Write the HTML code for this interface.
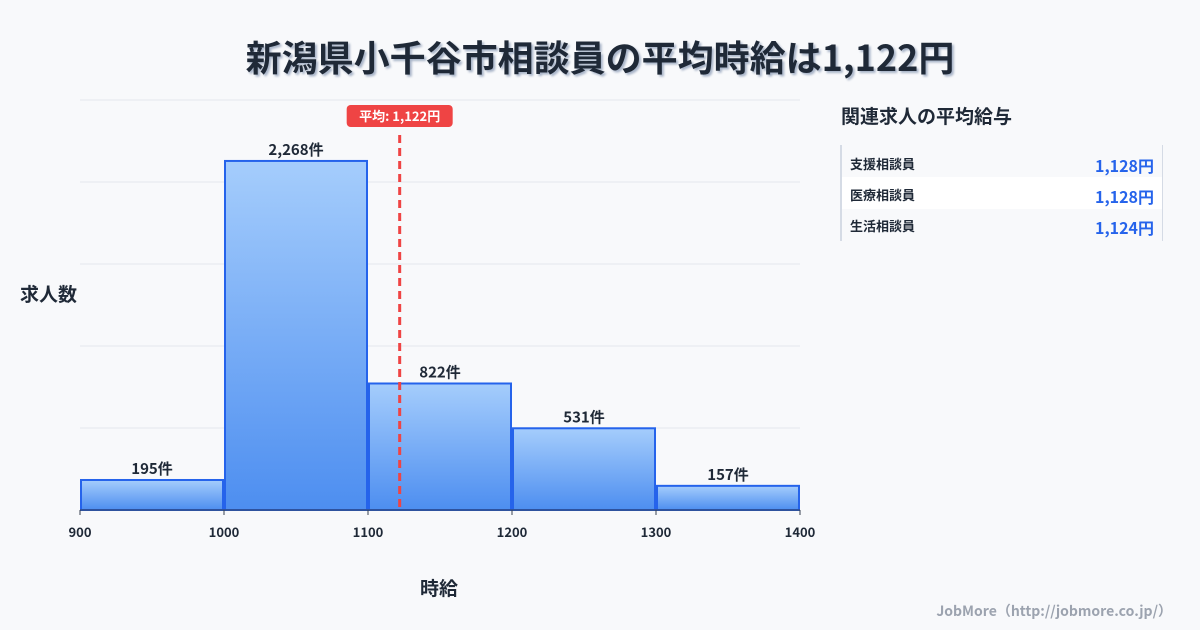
<!DOCTYPE html>
<html><head><meta charset="utf-8">
<style>
body{margin:0;background:#f8f9fb;font-family:"Liberation Sans","Noto Sans CJK JP",sans-serif;}
#wrap{position:relative;width:1200px;height:630px;overflow:hidden;background:#f8f9fb;}
.t{position:absolute;white-space:nowrap;}
</style></head><body>
<div id="wrap">
<div class="t" style="left:0;width:1200px;text-align:center;top:30px;font-size:36px;font-weight:bold;color:#1f2937;text-shadow:2px 2px 2px #a8b4c8;font-family:'Noto Sans CJK JP',sans-serif;">新潟県小千谷市相談員の平均時給は1,122円</div>
<svg id="chart" width="1200" height="630" style="position:absolute;left:0;top:0">
<defs><linearGradient id="g" x1="0" y1="0" x2="0" y2="1"><stop offset="0" stop-color="#a5cdfc"/><stop offset="1" stop-color="#4d8ef0"/></linearGradient></defs>
<g id="grid"></g><g id="bars"></g><g id="axis"></g><g id="avg"></g>
</svg>
<div class="t" style="left:20px;top:280px;font-size:19px;font-weight:bold;color:#1f2937;font-family:'Noto Sans CJK JP',sans-serif;">求人数</div>
<div class="t" style="left:420px;top:574px;font-size:19px;font-weight:bold;color:#1f2937;font-family:'Noto Sans CJK JP',sans-serif;">時給</div>
<div class="t" style="left:841px;top:102px;font-size:19px;font-weight:bold;color:#1f2937;font-family:'Noto Sans CJK JP',sans-serif;">関連求人の平均給与</div>
<div style="position:absolute;left:840px;top:145px;width:320px;height:96px;border-left:2px solid #d5dbe5;border-right:1px solid #d5dbe5;font-family:'Noto Sans CJK JP',sans-serif;">
 <div style="height:32px;position:relative;"><span class="t" style="left:8px;top:9px;font-size:13px;font-weight:bold;color:#1f2937">支援相談員</span><span class="t" style="right:8px;top:8px;font-size:16px;font-weight:bold;color:#2563eb">1,128円</span></div>
 <div style="height:32px;position:relative;background:#fff;"><span class="t" style="left:8px;top:8px;font-size:13px;font-weight:bold;color:#1f2937">医療相談員</span><span class="t" style="right:8px;top:7px;font-size:16px;font-weight:bold;color:#2563eb">1,128円</span></div>
 <div style="height:32px;position:relative;"><span class="t" style="left:8px;top:7px;font-size:13px;font-weight:bold;color:#1f2937">生活相談員</span><span class="t" style="right:8px;top:6px;font-size:16px;font-weight:bold;color:#2563eb">1,124円</span></div>
</div>
<div class="t" style="right:28px;top:601px;font-size:14px;font-weight:bold;color:#9ca3af;font-family:'Noto Sans CJK JP',sans-serif;">JobMore（http://jobmore.co.jp/）</div>
</div>
<script>
const binStarts=[900,1000,1100,1200,1300];
const counts=[195,2268,822,531,157];
const countLabels=["195件","2,268件","822件","531件","157件"];
const xTicks=[900,1000,1100,1200,1300,1400];
const avgValue=1122;
const avgLabel="平均: 1,122円";
const binWidth=100, xMin=900, xMax=1400, yMax=2664, gridCount=5;
const L=80,R=800,T=100,B=510;
const ns="http://www.w3.org/2000/svg";
const X=v=>L+(v-xMin)/(xMax-xMin)*(R-L);
const Y=v=>B-v/yMax*(B-T);
function mk(p,tag,a,txt){const e=document.createElementNS(ns,tag);for(const k in a)e.setAttribute(k,a[k]);if(txt!=null)e.textContent=txt;document.getElementById(p).appendChild(e);return e;}
for(let i=0;i<=gridCount;i++){const y=T+i*(B-T)/gridCount;
 const e=mk('grid','line',{x1:L,x2:R,y1:y,y2:y,stroke:'#e3e7ee','stroke-width':1});
 
 }
counts.forEach((c,i)=>{const x0=X(binStarts[i])+1,x1=X(binStarts[i]+binWidth)-1,y=Y(c);
 const r=mk('bars','rect',{x:x0,y:y,width:x1-x0,height:B-y,fill:'url(#g)',stroke:'#2563eb','stroke-width':2});
 
 
 const t=mk('bars','text',{x:(x0+x1)/2,y:y-6,'text-anchor':'middle','font-size':15,'font-weight':'bold',fill:'#1f2937','font-family':'Noto Sans CJK JP,sans-serif'},countLabels[i]);
 
 });
const ax=mk('axis','line',{x1:L,x2:R,y1:B,y2:B,stroke:'#374151','stroke-width':1});


xTicks.forEach(v=>{const tk=mk('axis','line',{x1:X(v),x2:X(v),y1:B,y2:B+5,stroke:'#374151'});
 
 
 const t=mk('axis','text',{x:X(v),y:B+27,'text-anchor':'middle','font-size':13,'font-weight':'bold',fill:'#1f2937','font-family':'Noto Sans CJK JP,sans-serif'},v);
 
 });
const ax2=X(avgValue);
const al=mk('avg','line',{x1:ax2,x2:ax2,y1:135,y2:B,stroke:'#ef4444','stroke-width':3,'stroke-dasharray':'8,5'});


const ab=mk('avg','rect',{x:ax2-53,y:105,width:106,height:22,rx:4,fill:'#ef4444'});


const at=mk('avg','text',{x:ax2,y:121,'text-anchor':'middle','font-size':13,'font-weight':'bold',fill:'#fff','font-family':'Noto Sans CJK JP,sans-serif'},avgLabel);


</script>
</body></html>
